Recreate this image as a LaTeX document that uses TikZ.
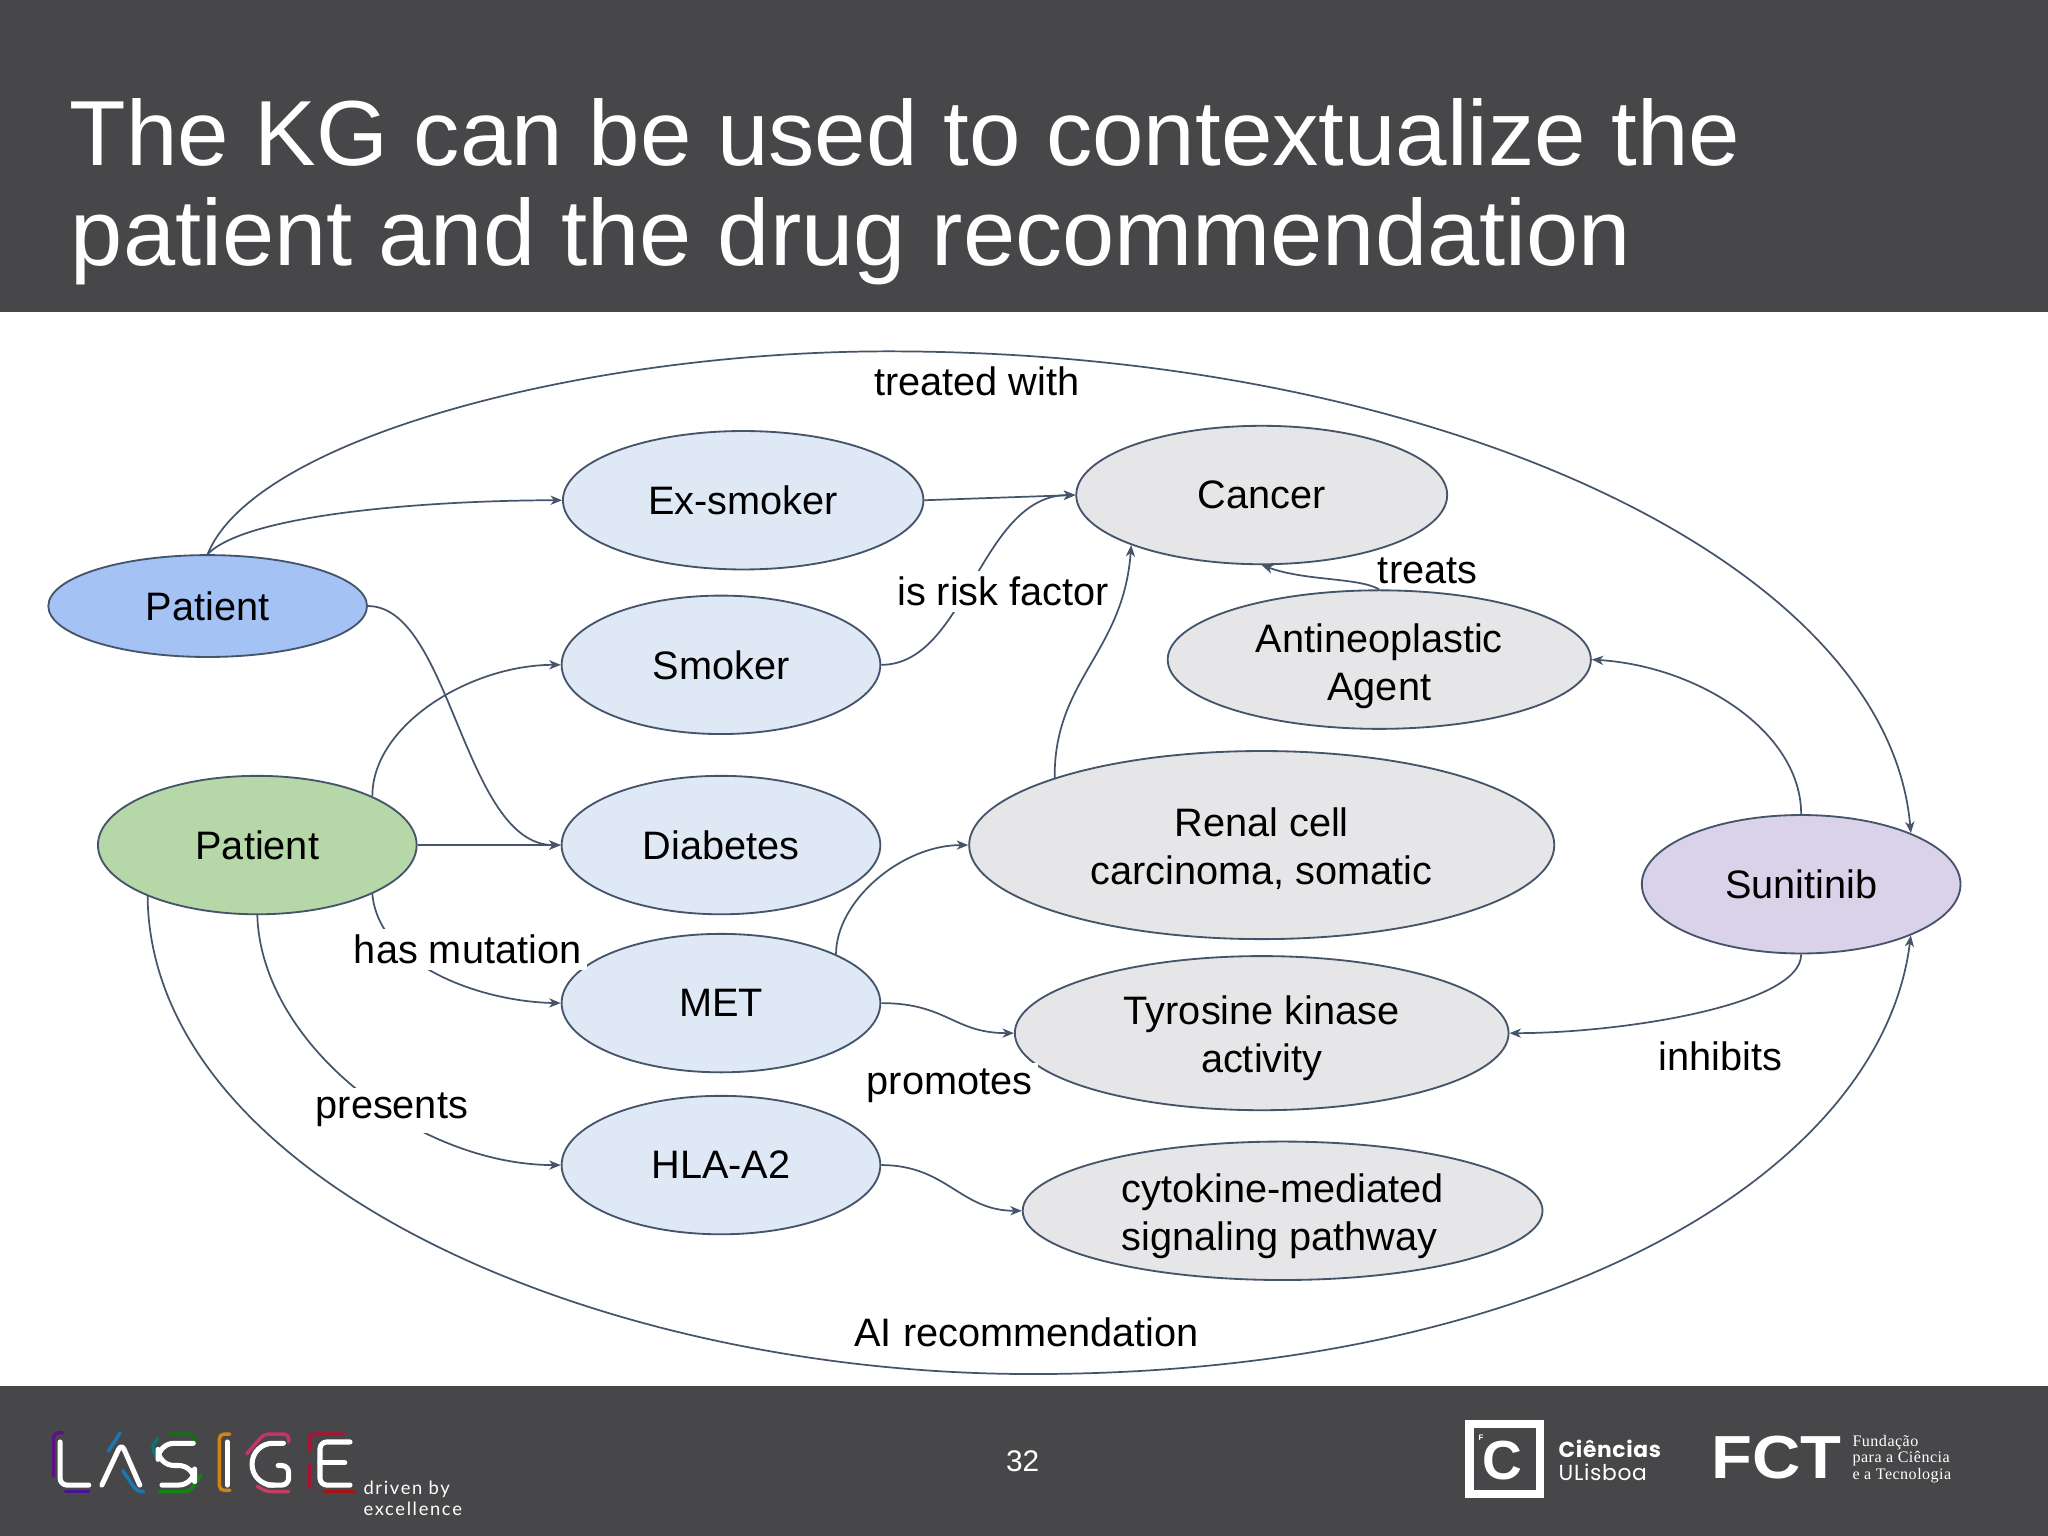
\documentclass[tikz,border=0pt]{standalone}
\usepackage{fontspec}
\setmainfont{Liberation Sans}
\newfontfamily\serifsmall[LetterSpace=3]{Liberation Serif}
\newfontfamily\logofont[LetterSpace=9]{Lato}
\newfontfamily\ulisboafont[LetterSpace=3]{Poppins}
\usepackage{tikz}
\usetikzlibrary{arrows.meta,positioning,shapes.geometric}

\definecolor{bandgray}{RGB}{71,71,73}
\definecolor{edgeslate}{RGB}{68,84,106}
\definecolor{patientblue}{RGB}{164,194,244}
\definecolor{patientgreen}{RGB}{182,215,168}
\definecolor{phenoblue}{RGB}{223,232,245}
\definecolor{termgray}{RGB}{230,230,232}
\definecolor{drugpurple}{RGB}{217,210,233}

\newcommand{\kglift}[1]{\rule{0pt}{#1}}

\tikzset{
  kgnode/.style={shape=ellipse,draw=edgeslate,line width=0.8pt,inner sep=0pt,align=center,font=\fontsize{17.3}{20.9}\selectfont},
  bluenode/.style={kgnode,fill=phenoblue,minimum width=244*0.02cm,minimum height=106*0.02cm},
  graynode/.style={kgnode,fill=termgray},
  kgedge/.style={draw=edgeslate,line width=0.75pt,-{Stealth[length=5pt,width=4pt,inset=1.5pt]}},
  kgplain/.style={draw=edgeslate,line width=0.75pt},
  kglabel/.style={inner sep=0pt,font=\fontsize{17.3}{20.9}\selectfont},
  kgcut/.style={kglabel,fill=white,inner sep=2.5pt},
  titleline/.style={anchor=base west,inner sep=0pt,text=white},
  footlogo/.style={inner sep=0pt,text=white},
  lasigeletter/.style={white,line width=2.2pt,line cap=round,line join=round,rounded corners=3pt},
  lasigetrace/.style={line width=1.5pt,line cap=round,rounded corners=2pt,opacity=0.75}
}

\begin{document}
\begin{tikzpicture}[x=0.02cm,y=-0.02cm]
        \useasboundingbox (0,0) rectangle (1568,1176);
        \fill[white] (0,0) rectangle (1568,1176);
        \fill[bandgray] (0,0) rectangle (1568,239);
        \fill[bandgray] (0,1061) rectangle (1568,1176);

        \node (title1) at (53,127) [titleline,font=\fontsize{40.3}{43}\selectfont] {The KG can be used to contextualize the};
        \node (title2) at (54,203) [titleline,font=\fontsize{40.9}{43}\selectfont] {patient and the drug recommendation};

        \node (pblue) at (159,464) [kgnode,fill=patientblue,minimum width=244*0.02cm,minimum height=78*0.02cm] {Patient};
        \node (pgreen) at (197,647) [kgnode,fill=patientgreen,minimum width=244*0.02cm,minimum height=106*0.02cm] {Patient};
        \node (exsmoker) at (569,383) [bluenode,minimum width=276*0.02cm] {Ex-smoker};
        \node (smoker) at (552,509) [bluenode] {Smoker};
        \node (diabetes) at (552,647) [bluenode] {Diabetes};
        \node (met) at (552,768) [bluenode] {MET};
        \node (hla) at (552,892) [bluenode] {HLA-A2};
        \node (cancer) at (966,379) [graynode,minimum width=284*0.02cm,minimum height=106*0.02cm] {Cancer};
        \node (agent) at (1056,505) [graynode,minimum width=324*0.02cm,minimum height=106*0.02cm] {\kglift{18.2pt}Antineoplastic\\Agent};
        \node (renal) at (966,647) [graynode,minimum width=448*0.02cm,minimum height=144*0.02cm] {\kglift{16pt}Renal cell\\carcinoma, somatic};
        \node (tyrosine) at (966,791) [graynode,minimum width=378*0.02cm,minimum height=118*0.02cm] {\kglift{17.1pt}Tyrosine kinase\\activity};
        \node (cytokine) at (982,927) [graynode,align=left,minimum width=398*0.02cm,minimum height=106*0.02cm] {\kglift{17.1pt}cytokine-mediated\\signaling pathway};
        \node (sunitinib) at (1379,677) [kgnode,fill=drugpurple,minimum width=244*0.02cm,minimum height=106*0.02cm] {Sunitinib};

        \coordinate (treatedtop) at (680,269);
        \coordinate (aibottom) at (790,1052);

        \draw[kgplain] (pblue.north) .. controls (195,335) and (450,269) .. (treatedtop);
        \draw[kgedge] (treatedtop) .. controls (1100,269) and (1445,430) .. (sunitinib.25);
        \draw[kgplain] (pgreen.205) .. controls (115,900) and (450,1052) .. (aibottom);
        \draw[kgedge] (aibottom) .. controls (1180,1052) and (1440,900) .. (sunitinib.-25);

        \draw[kgedge] (pblue.north) .. controls (190,392) and (340,383) .. (exsmoker.west);
        \draw[kgedge] (pblue.east) .. controls (345,464) and (355,647) .. (diabetes.west);
        \draw[kgedge] (pgreen.23.6) .. controls (285,555) and (360,509) .. (smoker.west);
        \draw[kgedge] (pgreen.east) -- (diabetes.west);
        \draw[kgedge] (pgreen.-23.6) .. controls (290,740) and (370,767) .. (met.west);
        \draw[kgedge] (pgreen.south) .. controls (200,800) and (320,892) .. (hla.west);
        \draw[kgedge] (exsmoker.east) -- (cancer.west);
        \draw[kgedge] (smoker.east) .. controls (740,509) and (750,379) .. (cancer.west);
        \draw[kgedge] (renal.162) .. controls (807,520) and (860,500) .. (cancer.201.3);
        \draw[kgedge] (agent.north) .. controls (1040,442) and (1000,445) .. (cancer.south);
        \draw[kgedge] (sunitinib.north) .. controls (1379,560) and (1300,510) .. (agent.east);
        \draw[kgedge] (sunitinib.south) .. controls (1379,770) and (1240,791) .. (tyrosine.east);
        \draw[kgedge] (met.23.6) .. controls (640,690) and (690,647) .. (renal.west);
        \draw[kgedge] (met.east) .. controls (725,768) and (730,791) .. (tyrosine.west);
        \draw[kgedge] (hla.east) .. controls (725,892) and (735,927) .. (cytokine.west);

        \node (ltreated) at (748,292) [kglabel] {treated with};
        \node (lrisk) at (768,453) [kgcut] {is risk factor};
        \node (ltreats) at (1093,437) [kglabel] {treats};
        \node (lmutation) at (358,727) [kgcut] {has mutation};
        \node (lpromotes) at (727,831) [kgcut] {promotes};
        \node (lpresents) at (300,850) [kgcut] {presents};
        \node (linhibits) at (1317,809) [kglabel] {inhibits};
        \node (lai) at (786,1020) [kglabel] {AI recommendation};

        \node (page) at (783,1119) [footlogo,font=\fontsize{13}{15}\selectfont] {32};

        \draw[lasigetrace,draw=violet!80!blue] (48,1097) -- (41,1097) -- (41,1130);
        \draw[lasigetrace,draw=violet!60!blue] (50,1142) -- (68,1142);
        \draw[lasigetrace,draw=cyan!70!blue] (92,1097) -- (83,1111);
        \draw[lasigetrace,draw=cyan!70!blue] (94,1126) -- (105,1142) -- (110,1142);
        \draw[lasigetrace,draw=green!50!black] (130,1098) -- (148,1098) -- (148,1104);
        \draw[lasigetrace,draw=teal] (121,1101) -- (116,1108) -- (121,1118);
        \draw[lasigetrace,draw=green!60!black] (122,1142) -- (145,1142) -- (154,1129);
        \draw[lasigetrace,draw=orange!80!yellow] (176,1098) -- (168,1098) -- (168,1141) -- (176,1141);
        \draw[lasigetrace,draw=magenta!70!orange] (189,1113) -- (202,1098) -- (221,1098) -- (221,1104);
        \draw[lasigetrace,draw=magenta!60!orange] (197,1138) -- (204,1142) -- (221,1142);
        \draw[lasigetrace,draw=purple!70!red] (237,1111) -- (237,1098) -- (263,1098);
        \draw[lasigetrace,draw=purple!70!red] (237,1121) -- (237,1139);
        \draw[lasigetrace,draw=red!80!black] (248,1142) -- (271,1142);
        \draw[lasigeletter] (46,1104) -- (46,1137) -- (68,1137);
        \draw[lasigeletter] (78,1137) -- (93,1105) -- (107,1137);
        \draw[lasigeletter,rounded corners=7pt] (148,1105) -- (121,1105) -- (121,1122) -- (149,1122) -- (149,1137) -- (124,1137);
        \draw[lasigeletter] (174,1104) -- (174,1137);
        \draw[lasigeletter,rounded corners=9pt] (217,1105) -- (193,1105) -- (193,1137) -- (210,1137);
        \draw[lasigeletter] (205,1137) -- (221,1137) -- (221,1122) -- (213,1122);
        \draw[lasigeletter] (268,1104) -- (245,1104) -- (245,1137) -- (268,1137);
        \draw[lasigeletter] (245,1120) -- (264,1120);
        \node (driven) at (278,1140) [footlogo,anchor=west,font=\logofont\fontsize{8}{8.5}\selectfont] {driven by};
        \node (excellence) at (278,1155) [footlogo,anchor=west,font=\logofont\fontsize{8}{8.5}\selectfont] {excellence};

        \draw[white,line width=3.6pt] (1125,1090) rectangle (1179,1144);
        \node (cmark) at (1150,1118) [footlogo,font=\bfseries\fontsize{24}{26}\selectfont] {C};
        \node (fmark) at (1134,1101) [footlogo,font=\bfseries\fontsize{3.5}{4}\selectfont] {F};
        \node (ciencias) at (1193,1109) [footlogo,anchor=west,font=\ulisboafont\bfseries\fontsize{9.5}{10}\selectfont] {Ciências};
        \node (ulisboa) at (1193,1127) [footlogo,anchor=west,font=\ulisboafont\fontsize{9.5}{10}\selectfont] {ULisboa};
        \node (fct) at (1360,1116) [footlogo,xscale=1.1,font=\bfseries\fontsize{26.5}{28}\selectfont] {FCT};
        \node (fundacao) at (1418,1117) [footlogo,anchor=west,align=left,font=\serifsmall\fontsize{7}{7.1}\selectfont] {Fundação\\para a Ciência\\e a Tecnologia};
    \end{tikzpicture}
\end{document}
